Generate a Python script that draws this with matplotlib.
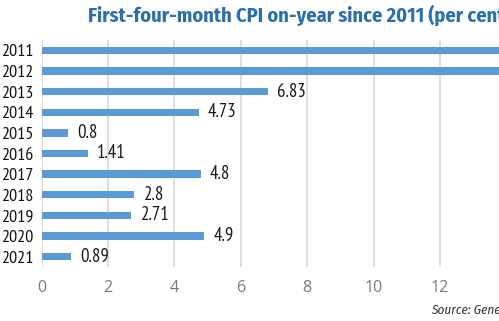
import matplotlib
matplotlib.use('Agg')
import matplotlib.pyplot as plt

# First-four-month CPI, per cent on-year
years = ['2011', '2012', '2013', '2014', '2015', '2016',
         '2017', '2018', '2019', '2020', '2021']
cpi = [14.3, 14.5, 6.83, 4.73, 0.8, 1.41, 4.8, 2.8, 2.71, 4.9, 0.89]
labels = ['', '', '6.83', '4.73', '0.8', '1.41', '4.8', '2.8', '2.71', '4.9', '0.89']
xticks = [0, 2, 4, 6, 8, 10, 12, 14, 16]

narrow = ['PT Sans Narrow', 'DejaVu Sans']
plt.rcParams['font.family'] = narrow

W, H = 499, 321
fig = plt.figure(figsize=(W / 100, H / 100), dpi=100)
fig.patch.set_facecolor('white')

# axes run past the right edge of the figure
px_per_unit = 33.2
x_max = 16
ax = fig.add_axes([41.5 / W, (H - 267) / H, x_max * px_per_unit / W, 227 / H])

pos = list(range(len(years)))
ax.barh(pos, cpi, height=0.36, color='#5b9bd5', zorder=3)
for p, v, lab in zip(pos, cpi, labels):
    if lab:
        ax.annotate(lab, (v, p), xytext=(6.5, 0), textcoords='offset points',
                    va='center', ha='left', fontsize=13.5, color='#1a1a1a')

ax.set_xlim(0, x_max)
ax.set_ylim(10.5, -0.5)
ax.set_xticks(xticks)
ax.set_xticklabels([str(t) for t in xticks], family=['Open Sans', 'DejaVu Sans'])
ax.set_yticks(pos)
ax.set_yticklabels(years)
ax.tick_params(axis='x', length=0, pad=9, labelsize=11.5, labelcolor='#7a7a7a')
ax.tick_params(axis='y', length=0, pad=6, labelsize=13, labelcolor='#111111')
ax.xaxis.grid(True, color='#d9d9d9', linewidth=1.2, zorder=0)
for s in ax.spines.values():
    s.set_visible(False)

fig.text(88 / W, 1 - 22 / H, 'First-four-month CPI on-year since 2011 (per cent)',
         fontsize=14.6, fontweight='bold', color='#2b6fab', ha='left', va='baseline',
         family=['Fira Sans Condensed', 'DejaVu Sans'])
fig.text(431 / W, 1 - 313 / H, 'Source: General Statistics Office',
         fontsize=9.5, style='italic', color='#333333', ha='left', va='baseline',
         family=['Fira Sans Condensed', 'DejaVu Sans'])

fig.savefig('out.png', dpi=100)
